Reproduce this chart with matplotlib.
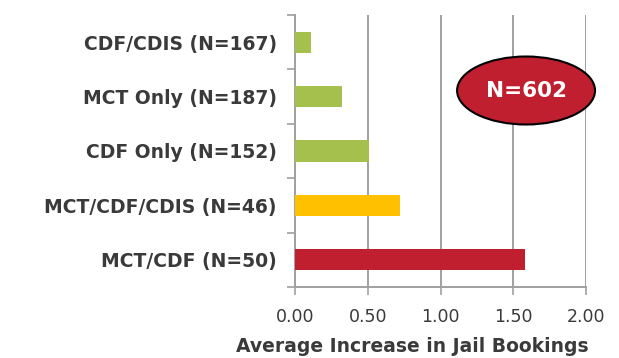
import matplotlib
matplotlib.use("Agg")
import matplotlib.pyplot as plt
from matplotlib.patches import Ellipse
import numpy as np

categories = ["CDF/CDIS (N=167)", "MCT Only (N=187)", "CDF Only (N=152)",
              "MCT/CDF/CDIS (N=46)", "MCT/CDF (N=50)"]
values = [0.11, 0.32, 0.51, 0.72, 1.58]
colors = ["#A5C04C", "#A5C04C", "#A5C04C", "#FFC000", "#C01F2F"]
xticks = [0.0, 0.5, 1.0, 1.5, 2.0]
xlabel = "Average Increase in Jail Bookings"
badge = "N=602"

plt.rcParams['font.family'] = ['DejaVu Sans']
fig = plt.figure(figsize=(6.19, 3.58), dpi=100)
ax = fig.add_axes([295/619, 1-287/358, (586-295)/619, (287-15)/358])

y = np.arange(len(categories))
ax.barh(y, values, height=0.39, color=colors, zorder=3)
ax.set_ylim(len(categories)-0.5, -0.5)
ax.set_xlim(0, 2.0)

ax.set_xticks(xticks)
ax.set_xticklabels([f"{v:.2f}" for v in xticks], fontsize=12.5, color="#3a3a3a")
ax.set_yticks(y)
ax.set_yticklabels(categories, fontsize=13.5, fontweight="bold", color="#3a3a3a")
ax.set_yticks(np.arange(-0.5, len(categories)), minor=True)
ax.tick_params(axis="y", which="major", length=0, pad=13)
ax.tick_params(axis="y", which="minor", length=6, width=1.2, color="#a0a0a0", direction="out")
ax.tick_params(axis="x", which="major", length=6, width=1.2, color="#a0a0a0", pad=9)

ax.grid(axis="x", color="#a0a0a0", linewidth=1.4, zorder=1)
for s in ["top", "right"]:
    ax.spines[s].set_visible(False)
for s in ["left", "bottom"]:
    ax.spines[s].set_color("#a0a0a0")
    ax.spines[s].set_linewidth(1.4)

ax.set_xlabel(xlabel, fontsize=13.5, fontweight="bold", color="#3a3a3a")
ax.xaxis.set_label_coords(0.404, -0.185)

ell = Ellipse((1.588, 0.888), 0.948, 1.25, facecolor="#C01F2F", edgecolor="black",
              linewidth=1.5, zorder=5, clip_on=False)
ax.add_patch(ell)
ax.text(1.588, 0.90, badge, ha="center", va="center", fontsize=15.5, fontweight="bold",
        color="white", zorder=6)

fig.savefig("out.png", dpi=100)
